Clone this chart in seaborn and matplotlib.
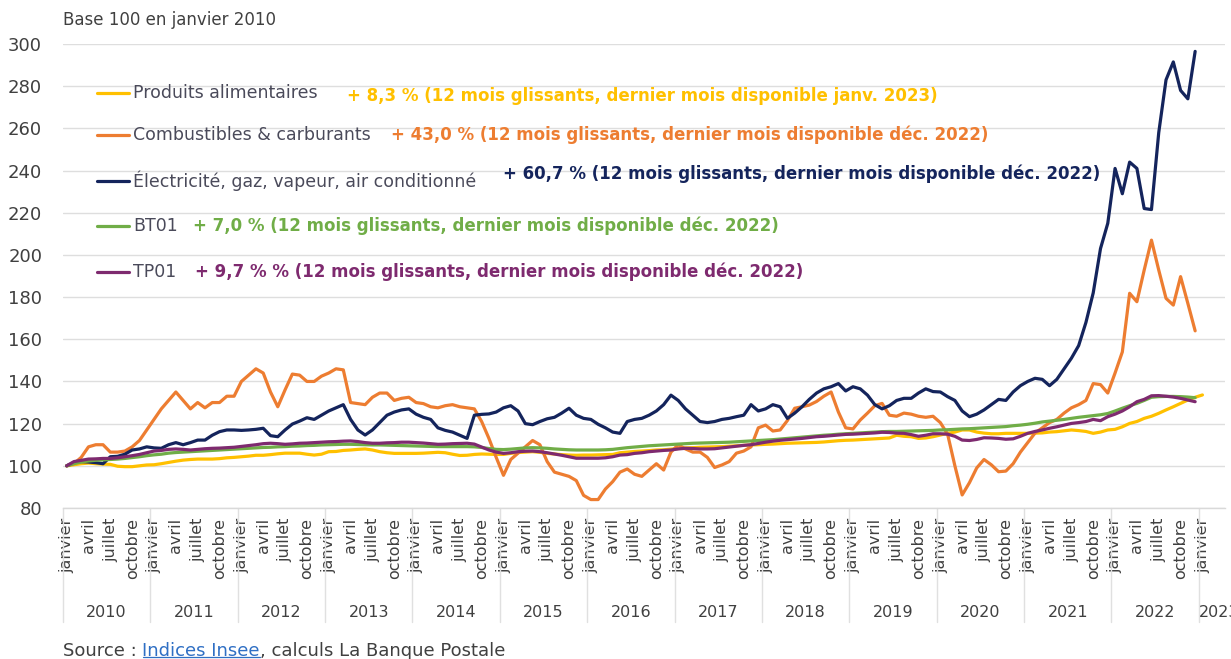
import numpy as np
import pandas as pd
import matplotlib
matplotlib.use('Agg')
import matplotlib.pyplot as plt
import seaborn as sns
from matplotlib.lines import Line2D

# ---------------- données (base 100 en janvier 2010, un point par mois) ----------------
# Produits alimentaires : janv. 2010 -> janv. 2023
alimentaires = [
    100, 100.5, 101, 101.3, 101, 100.8, 100.7, 99.8, 99.6, 99.6, 100, 100.4,
    100.5, 101, 101.6, 102.2, 102.7, 103, 103.2, 103.2, 103.2, 103.4, 103.8, 104,
    104.3, 104.6, 105, 105, 105.3, 105.7, 106, 106, 106, 105.5, 105.1, 105.5,
    106.7, 106.8, 107.3, 107.5, 107.8, 108, 107.5, 106.7, 106.2, 105.9, 105.9, 105.9,
    105.9, 106, 106.2, 106.4, 106.2, 105.5, 104.9, 105, 105.4, 105.6, 105.5, 105.4,
    105.4, 105.9, 106.3, 106.5, 106.7, 106.4, 105.9, 105.6, 105.3, 105.1, 105, 105.1,
    105.1, 105.2, 105.3, 105.4, 106.2, 106.5, 106.8, 107, 107.2, 107.5, 107.6, 107.9,
    108.2, 108.5, 108.6, 108.8, 108.9, 109, 109.1, 109.3, 109.5, 109.7, 109.9, 110,
    110.2, 110.3, 110.5, 110.7, 110.8, 110.9, 111, 111.1, 111.3, 111.6, 111.9, 112.1,
    112.2, 112.4, 112.6, 112.8, 113, 113.2, 114.5, 114, 113.8, 113, 113.2, 113.8,
    114.6, 115.4, 116, 117, 117, 116, 115.5, 115.2, 115.2, 115.4, 115.4, 115.4,
    115.4, 115.5, 115.6, 116, 116.2, 116.6, 117, 116.7, 116.3, 115.4, 116, 117,
    117.3, 118.5, 120.1, 121, 122.5, 123.5, 124.9, 126.5, 128, 129.6, 131.2, 132.5,
    133.6,
]

# Combustibles & carburants : janv. 2010 -> déc. 2022
combustibles = [
    100, 101, 104, 109, 110, 110, 106.5, 106.5, 107, 109, 112, 117,
    122, 127, 131, 135, 131, 127, 130, 127.5, 130, 130, 133, 133,
    140, 143, 146, 144, 135, 128, 136, 143.5, 143, 140, 140, 142.5,
    144, 146, 145.5, 130, 129.5, 129, 132.5, 134.5, 134.5, 131, 132, 132.5,
    130, 129.5, 128, 127.5, 128.5, 129, 128, 127.5, 127, 121, 113, 104,
    95.5, 103, 106, 109, 112, 110, 102, 97, 96, 95, 93, 86,
    84, 84, 89, 92.5, 97, 98.5, 96, 95, 98, 101, 98, 106.5,
    110, 108, 106.5, 106.5, 104, 99.2, 100.4, 102, 106, 107, 109, 118,
    119.3, 116.5, 117, 121.5, 127.3, 128, 128.8, 130.5, 133, 135, 125.5, 118,
    117.5, 121.7, 125, 128.5, 129.6, 124, 123.5, 125, 124.5, 123.5, 123, 123.5,
    120.5, 115, 100, 86.2, 92, 99, 103, 100.5, 97.2, 97.5, 101, 106.5,
    111, 115.5, 118, 120.5, 122, 125, 127.5, 129, 131, 139, 138.5, 134.5,
    144, 154, 181.8, 177.8, 192.8, 207, 192.8, 179.4, 176.2, 189.7, 177, 164,
]

# Électricité, gaz, vapeur, air conditionné : janv. 2010 -> déc. 2022
electricite = [
    100, 101.5, 102, 101.8, 101.5, 101, 104.3, 104.5, 105.5, 107.5, 108, 109,
    108.5, 108.3, 110, 111, 110, 111, 112.2, 112.2, 114.5, 116.2, 117, 117,
    116.8, 117, 117.3, 117.8, 114.3, 113.8, 117, 119.8, 121.2, 122.8, 122, 124,
    126, 127.5, 129, 122, 117, 114.6, 117, 120.5, 124, 125.5, 126.5, 127,
    124.5, 123, 122, 118, 116.8, 116, 114.5, 113, 124, 124.4, 124.6, 125.5,
    127.5, 128.5, 126, 120, 119.5, 121, 122.3, 123, 125, 127.3, 124, 122.5,
    122, 119.7, 118, 116, 115.4, 121, 122, 122.5, 124, 126, 129, 133.5,
    131, 127, 124, 121, 120.5, 121, 122, 122.5, 123.3, 124, 129, 126,
    127, 129, 128, 122.5, 125, 128, 131.5, 134.5, 136.5, 137.5, 139, 135.5,
    137.5, 136.5, 133.5, 129, 127, 128.5, 131, 132, 132, 134.5, 136.5, 135.2,
    135, 132.8, 131, 126, 123.3, 124.5, 126.5, 129, 131.5, 131, 135, 138,
    140, 141.5, 141, 138, 141, 146, 151, 157, 168, 182, 203, 215,
    241, 229, 244, 241, 222, 221.5, 258, 283, 291.5, 278, 274, 296.5,
]

# BT01 : janv. 2010 -> déc. 2022
bt01 = [
    100, 101, 101.8, 102.3, 102.6, 102.8, 103, 103.2, 103.5, 103.9, 104.3, 104.8,
    105.2, 105.5, 106, 106.3, 106.5, 106.7, 106.9, 107.1, 107.3, 107.5, 107.7, 107.9,
    108.1, 108.3, 108.5, 108.7, 108.8, 109, 109.1, 109.3, 109.4, 109.6, 109.7, 109.9,
    110, 110.1, 110.2, 110.2, 110.1, 110, 109.9, 109.9, 109.8, 109.7, 109.6, 109.5,
    109.4, 109.3, 109.2, 109.1, 109.1, 109.1, 109.1, 109.1, 109, 108.7, 108.2, 107.8,
    107.7, 107.9, 108.2, 108.5, 108.6, 108.5, 108.3, 108, 107.8, 107.6, 107.5, 107.5,
    107.5, 107.5, 107.6, 107.8, 108.2, 108.6, 108.9, 109.2, 109.5, 109.7, 109.9, 110.1,
    110.3, 110.5, 110.7, 110.8, 110.9, 111, 111.1, 111.2, 111.4, 111.6, 111.8, 112,
    112.2, 112.4, 112.7, 113, 113.3, 113.6, 113.9, 114.2, 114.5, 114.7, 115, 115.2,
    115.4, 115.6, 115.8, 116, 116.2, 116.3, 116.3, 116.4, 116.5, 116.6, 116.7, 116.8,
    117, 117.1, 117.3, 117.5, 117.6, 117.8, 118, 118.2, 118.4, 118.6, 119, 119.3,
    119.7, 120.2, 120.8, 121.2, 121.6, 122, 122.5, 123, 123.4, 123.8, 124.2, 124.8,
    126, 127.3, 128.5, 129.6, 131, 132.5, 132.8, 132.9, 132.9, 132.8, 132.6, 132.3,
]

# TP01 : janv. 2010 -> déc. 2022
tp01 = [
    100, 102, 102.6, 103.2, 103.3, 103.5, 103.5, 103.8, 104.3, 104.8, 105.4, 106.2,
    107, 107.3, 107.8, 108, 107.8, 107.5, 107.8, 108.1, 108.3, 108.4, 108.6, 108.8,
    109.2, 109.6, 110, 110.5, 110.7, 110.5, 110.2, 110.4, 110.7, 110.8, 111, 111.2,
    111.4, 111.5, 111.7, 111.8, 111.5, 111, 110.7, 110.7, 110.9, 111, 111.2, 111.2,
    111, 110.8, 110.5, 110.2, 110.3, 110.5, 110.6, 110.7, 110.3, 108.9, 107.5, 106.5,
    105.9, 106.2, 106.7, 106.9, 107, 106.7, 106.2, 105.6, 105, 104.3, 103.6, 103.6,
    103.6, 103.6, 103.8, 104.3, 105.1, 105.3, 105.9, 106.2, 106.7, 107, 107.3, 107.5,
    108, 108.3, 108.2, 108, 108, 108.1, 108.5, 108.9, 109.3, 109.7, 110, 110.6,
    111.2, 111.7, 112.1, 112.4, 112.7, 113, 113.4, 113.8, 114, 114.3, 114.6, 114.9,
    115, 115.2, 115.4, 115.6, 115.9, 115.8, 115.5, 115.4, 114.8, 114, 114.5, 115.2,
    115.2, 115, 114, 112.2, 112, 112.5, 113.3, 113.2, 113, 112.6, 112.8, 114,
    115.4, 116.3, 117, 117.8, 118.5, 119.3, 120.1, 120.5, 121, 122, 121.4, 123.3,
    124.5, 126, 128, 130.4, 131.5, 133.2, 133.3, 133, 132.6, 132, 131.2, 130.4,
]

series_names = ['Produits alimentaires', 'Combustibles & carburants',
                'Électricité, gaz, vapeur, air conditionné', 'BT01', 'TP01']
series_values = [alimentaires, combustibles, electricite, bt01, tp01]
series_notes = [
    '+ 8,3 % (12 mois glissants, dernier mois disponible janv. 2023)',
    '+ 43,0 % (12 mois glissants, dernier mois disponible déc. 2022)',
    '+ 60,7 % (12 mois glissants, dernier mois disponible déc. 2022)',
    '+ 7,0 % (12 mois glissants, dernier mois disponible déc. 2022)',
    '+ 9,7 % % (12 mois glissants, dernier mois disponible déc. 2022)',
]
colors = ['#FFC000', '#ED7D31', '#14245C', '#70AD47', '#7E2A6F']

years = [str(y) for y in range(2010, 2024)]
month_labels = ['janvier', 'avril', 'juillet', 'octobre']
month_steps = [0, 3, 6, 9]

y_ticks = list(range(80, 301, 20))

# ---------------- figure ----------------
W, H = 1231, 659
sns.set_theme(style='white')
plt.rcParams['font.family'] = ['DejaVu Sans']

fig = plt.figure(figsize=(W / 100, H / 100), dpi=100)
ax = fig.add_axes([63 / W, 1 - 508 / H, (1225 - 63) / W, (508 - 44) / H])

grey_txt = '#404040'

for name, vals, col in zip(series_names, series_values, colors):
    x = np.arange(len(vals))
    sns.lineplot(x=x, y=vals, color=col, linewidth=2.3, ax=ax, legend=False)

n_months = 12 * (len(years) - 1) + 1
ax.set_xlim(-0.5, 159.1)
ax.set_ylim(80, 300)

ax.set_yticks(y_ticks)
ax.set_yticklabels([str(v) for v in y_ticks], fontsize=13, color=grey_txt)
ax.yaxis.grid(True, color='#dedede', linewidth=1)
ax.xaxis.grid(False)

tick_pos = [12 * k + m for k in range(len(years)) for m in month_steps if 12 * k + m < n_months]
tick_lab = [month_labels[month_steps.index(p % 12)] for p in tick_pos]
ax.set_xticks(tick_pos)
ax.set_xticklabels(tick_lab, rotation=90, fontsize=11.5, color=grey_txt, va='top', ha='center')
ax.tick_params(axis='both', length=0)
ax.tick_params(axis='y', pad=15)
ax.tick_params(axis='x', pad=7)

for side in ['top', 'right', 'left']:
    ax.spines[side].set_visible(False)
ax.spines['bottom'].set_color('#d9d9d9')
ax.spines['bottom'].set_linewidth(1)

# séparateurs et libellés d'années sous l'axe
xt = ax.get_xaxis_transform()
for k, yr in enumerate(years):
    start = 12 * k - 0.5
    ax.plot([start, start], [0, -0.246], transform=xt, color='#e0e0e0',
            linewidth=1, clip_on=False)
    center = start + 6 if k < len(years) - 1 else 158.3
    ax.text(center, -0.226, yr, transform=xt, ha='center', va='center',
            fontsize=11.5, color=grey_txt, clip_on=False)

# légende maison + commentaires
def fx(px):
    return px / W

def fy(py):
    return 1 - py / H

legend_y = [93, 135, 181, 226, 272]
note_x = [347, 391, 503, 193, 195]
note_y = [96, 135, 174, 226, 272]
for name, col, ly, nx, ny, note in zip(series_names, colors, legend_y, note_x, note_y, series_notes):
    fig.add_artist(Line2D([fx(97), fx(129)], [fy(ly), fy(ly)], color=col, linewidth=2.3))
    fig.text(fx(133), fy(ly), name, fontsize=12.5, color='#4a4a5a', va='center', ha='left')
    fig.text(fx(nx), fy(ny), note, fontsize=12, color=col, fontweight='bold',
             va='center', ha='left')

fig.text(fx(63), fy(20), 'Base 100 en janvier 2010', fontsize=12, color=grey_txt,
         va='center', ha='left')

# source
src1 = fig.text(fx(63), fy(651), 'Source : ', fontsize=13, color=grey_txt,
                va='center', ha='left')
src2 = ax.annotate('Indices Insee', xy=(1, 0), xycoords=src1, va='bottom', ha='left',
                   fontsize=13, color='#2f6fc4')
src3 = ax.annotate(', calculs La Banque Postale', xy=(1, 0), xycoords=src2,
                   va='bottom', ha='left', fontsize=13, color=grey_txt)

fig.canvas.draw()
bb = src2.get_window_extent(renderer=fig.canvas.get_renderer())
uy = (bb.y0 + 3) / H
fig.add_artist(Line2D([bb.x0 / W, bb.x1 / W], [uy, uy], color='#2f6fc4', linewidth=0.9))

fig.savefig('out.png', dpi=100)
